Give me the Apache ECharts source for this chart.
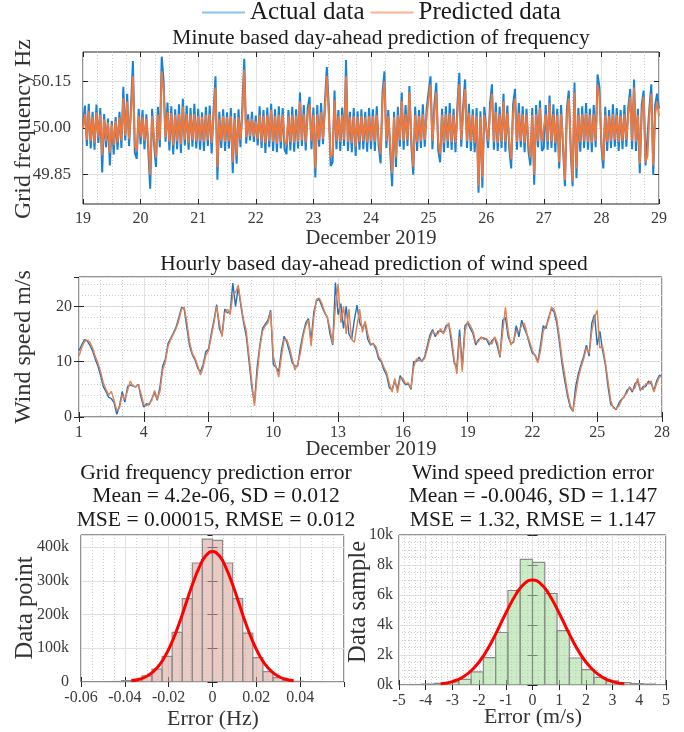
<!DOCTYPE html>
<html><head><meta charset="utf-8">
<script src="https://cdn.jsdelivr.net/npm/echarts@6.0.0/dist/echarts.min.js"></script>
<style>html,body{margin:0;padding:0;background:#fff}#c{width:684px;height:732px}</style>
</head><body><div id="c"></div>
<script>
const FONT = "'Liberation Serif','DejaVu Serif',serif";

// ---------- Top panel: grid frequency (deviation from 50 Hz in mHz), one value every 48 min from 19 Dec 00:00
const freqStartDay = 19;
const freqSamplesPerDay = 30;
const freqYTicks = [49.85, 50.00, 50.15];
const freqActual = [
 10,72,-58,78,-66,52,-70,75,-48,64, -143,45,-62,30,-120,22,-85,35,-70,52, -64,132,-40,110,-58,70,215,-80,-99,62,
 -52,58,-68,44,-72,-195,62,-50,-125,68, -62,229,150,-44,82,-72,70,-85,60,-68, 76,-80,94,-56,72,-70,64,-60,78,-66,
 62,-70,50,-74,68,-58,72,-82,54,166, -166,52,-64,60,-74,50,-66,64,-145,48, -115,60,-62,70,222,-50,44,-40,52,-45,
 40,-56,70,-64,58,-80,66,-62,78,-74, 60,-78,70,-66,64,-70,-84,58,-72,68, -76,60,-66,114,-58,74,-72,62,100,-68,
 66,-159,74,-60,80,-52,82,196,70,-122, -110,120,-68,58,-74,66,-58,218,-74,52, -78,64,-90,54,-70,60,-68,52,-76,64,
 -68,60,-74,70,-58,-114,114,182,-64,58, -76,-187,52,-125,68,-60,114,-70,74,-58, 135,-54,-150,68,-74,58,-64,76,-60,64,
 60,166,-68,74,145,-70,-110,62,-78,70, -64,80,-70,62,-78,74,177,-60,70,156, -64,78,-74,60,-78,64,-208,54,-192,68,
 74,-64,78,140,-70,82,-74,68,-64,110, -76,72,-64,-130,74,125,-70,80,-62,70, -78,62,-74,-120,64,-182,74,-62,88,-74,
 -64,74,-70,104,-64,76,-78,62,-130,74, -62,-187,60,120,-74,-187,146,-161,64,-76, 70,-64,80,-70,62,-78,74,-62,172,130,
 -60,-130,68,-74,58,-64,76,-60,64,-74, 58,-68,74,-60,66,125,-68,156,-74,62, -145,74,120,-120,-115,64,140,-150,74,110, 62
];
const freqPred = [
 0,45,-38,55,-42,35,-48,50,-30,42, -88,28,-42,18,-80,12,-55,22,-46,34, -40,95,-24,85,-36,46,166,-55,-75,40,
 -30,35,-42,30,-45,-150,38,-35,-95,42, -38,182,120,-30,50,-45,48,-55,42,-42, 45,-52,70,-38,45,-48,42,-38,45,-42,
 38,-42,35,-45,42,-38,45,-48,35,130, -125,30,-42,38,-45,35,-42,38,-110,30, -88,35,-38,42,187,-30,28,-25,30,-28,
 22,-35,42,-45,38,-48,42,-42,58,-45, 38,-50,42,-45,44,-42,-55,38,-45,42, -48,40,-44,85,-38,45,-46,42,75,-42,
 42,-130,45,-38,50,-35,55,167,45,-95, -85,90,-42,38,-45,42,-38,166,-45,35, -48,38,-60,35,-45,38,-42,35,-46,38,
 -42,38,-45,42,-38,-85,85,150,-42,38, -45,-145,35,-95,42,-38,88,-42,45,-38, 115,-35,-125,42,-45,38,-42,45,-38,42,
 38,140,-42,45,115,-45,-85,42,-48,45, -42,48,-45,42,-48,45,140,-38,45,125, -42,48,-45,42,-48,38,-187,35,-160,42,
 45,-42,48,110,-45,52,-48,45,-42,85, -45,48,-42,-100,45,95,-45,48,-42,45, -48,42,-45,-95,42,-150,45,-42,65,-45,
 -42,45,-45,80,-42,45,-48,42,-110,45, -42,-167,38,95,-45,-172,115,-130,42,-45, 45,-42,48,-45,42,-48,45,-42,140,100,
 -38,-105,42,-45,38,-42,45,-38,42,-45, 38,-42,45,-38,42,100,-42,130,-45,42, -115,45,100,-110,-90,42,110,-120,45,85, 38
];

// ---------- Middle panel: wind speed (m/s), one value every 3 h from 1 Dec 00:00
const windSamplesPerDay = 8;
const windActual = [
 12.0,13.0,14.0,13.8,13.0,12.0,10.5,9.2,
 7.5,5.5,4.6,3.6,3.3,2.6,0.5,2.0,
 4.6,2.7,5.5,5.8,5.6,5.4,5.9,3.5,
 1.8,2.4,2.2,3.3,4.5,3.0,5.5,9.2,
 10.5,13.3,14.2,15.2,16.3,18.0,19.8,19.5,
 16.0,12.8,11.2,10.3,8.8,8.2,9.5,11.8,
 12.3,15.0,17.5,20.3,16.0,14.8,19.5,18.8,
 19.0,24.2,20.0,23.5,20.0,17.0,14.5,10.0,
 5.5,2.5,9.0,13.0,16.0,16.8,17.5,19.3,
 9.5,9.0,8.2,12.0,14.6,13.5,11.8,9.8,
 9.2,9.2,12.5,15.0,17.0,17.8,13.8,19.0,
 21.0,21.3,20.0,18.8,18.0,15.0,13.0,24.3,
 18.5,20.5,16.0,20.0,15.0,14.0,17.5,20.2,
 17.0,16.0,17.0,14.0,13.0,13.3,12.3,10.5,
 10.0,8.5,7.5,5.2,5.0,6.5,5.0,7.5,
 6.5,5.8,6.0,5.0,10.0,10.0,10.8,10.0,
 10.8,12.8,14.8,15.8,14.5,15.5,15.5,15.2,
 16.5,16.8,13.5,9.8,9.0,15.8,9.0,16.5,
 17.0,16.0,15.0,13.0,14.0,14.3,14.3,14.0,
 13.0,13.8,14.3,12.8,10.8,17.5,18.0,14.5,
 13.3,13.5,16.5,14.5,17.5,16.0,14.8,13.0,
 11.5,11.2,10.0,13.0,16.5,16.0,18.0,19.5,
 19.0,17.0,13.5,9.5,6.5,3.8,1.8,1.0,
 5.5,7.8,9.5,11.0,13.0,11.0,17.0,18.5,
 13.0,15.5,12.0,9.5,5.5,2.3,1.8,1.3,
 2.5,3.2,3.6,4.8,5.3,4.5,6.0,6.5,
 4.8,5.5,5.5,6.5,6.0,4.8,6.5,7.5,
 7.5
];
const windPred = [
 11.0,12.5,13.6,13.9,13.6,12.5,11.0,9.8,
 8.2,6.2,5.0,4.0,4.6,3.0,1.2,1.6,
 4.0,3.2,4.8,6.5,5.6,5.5,5.8,4.2,
 2.2,2.0,2.5,3.0,4.8,3.2,4.6,8.5,
 10.0,12.8,14.0,15.0,16.0,17.5,19.5,19.8,
 17.0,13.5,11.5,10.6,9.2,7.6,9.0,11.2,
 12.0,14.5,17.0,20.0,17.0,14.5,18.8,19.5,
 18.5,22.0,22.5,23.8,20.5,17.5,15.5,11.0,
 6.5,2.0,7.5,12.5,15.5,16.5,17.0,19.0,
 11.0,9.0,7.2,11.0,14.0,14.0,12.5,10.5,
 8.5,9.5,11.5,14.5,16.5,17.5,12.8,18.0,
 21.3,21.5,20.5,19.0,18.0,16.0,13.2,20.0,
 24.0,17.0,20.0,15.0,19.5,14.0,13.5,16.5,
 19.5,15.3,17.3,15.0,13.2,13.2,12.8,11.0,
 10.2,9.0,8.0,6.0,4.5,7.0,4.4,7.0,
 7.0,6.0,6.2,5.2,9.0,10.5,10.2,10.2,
 10.5,12.2,14.2,15.5,15.0,15.0,16.0,15.0,
 16.0,17.0,14.5,10.5,7.8,14.5,8.2,15.5,
 17.3,16.5,15.5,13.5,13.6,14.5,14.0,14.2,
 13.5,13.2,14.5,13.5,11.0,15.5,19.8,15.5,
 13.0,13.8,15.5,15.5,16.5,17.0,15.0,13.5,
 12.0,11.0,9.8,12.0,15.5,16.5,17.5,19.8,
 19.5,17.8,14.5,10.5,7.5,4.5,2.2,1.0,
 4.0,7.0,9.0,10.5,12.5,11.5,15.5,18.0,
 19.3,12.5,12.8,10.0,6.5,3.0,1.6,1.5,
 2.0,3.0,3.8,4.3,5.5,4.8,5.3,7.0,
 5.0,5.0,6.0,6.0,6.5,4.5,6.0,7.2,
 7.5
];

// ---------- Bottom left: frequency error histogram (Hz)
const freqErrEdges = [-0.0598,-0.0552,-0.0506,-0.046,-0.0414,-0.0368,-0.0322,-0.0276,-0.023,-0.0184,-0.0138,-0.0092,-0.0046,0,
 0.0046,0.0092,0.0138,0.0184,0.023,0.0276,0.0322,0.0368,0.0414,0.046,0.0506];
const freqErrCounts = [300,500,800,1500,4000,8000,18000,38000,76000,147000,247000,353000,424000,
 420000,353000,247000,145000,72000,31000,13000,5000,2000,1000,500];
const freqFitX = [-0.037,-0.033,-0.03,-0.027,-0.024,-0.021,-0.018,-0.015,-0.012,-0.009,-0.006,-0.003,0,
 0.003,0.006,0.009,0.012,0.015,0.018,0.021,0.024,0.027,0.03,0.033,0.037];
const freqFitY = [3400,8900,17000,31000,52000,84000,126000,177000,235000,292000,341000,375000,387000,
 375000,341000,292000,235000,177000,126000,84000,52000,31000,17000,8900,3400];

// ---------- Bottom right: wind speed error histogram (m/s)
const windErrEdges = [-4.6,-4.14,-3.68,-3.22,-2.76,-2.3,-1.84,-1.38,-0.92,-0.46,0,0.46,0.92,1.38,1.84,2.3,2.76,3.22,3.68,4.14,4.6];
const windErrCounts = [30,60,110,200,380,870,1830,3500,6300,8370,8170,6100,3630,1800,1020,510,270,160,90,60];
const windFitX = [-3.44,-3.0,-2.6,-2.2,-1.8,-1.4,-1.0,-0.6,-0.3,0,0.3,0.6,1.0,1.4,1.8,2.2,2.6,3.0,3.44];
const windFitY = [78,229,536,1113,2044,3324,4787,6105,6765,7000,6765,6105,4787,3324,2044,1113,536,229,78];

// ---------- build series data
const freqA = freqActual.map((v, i) => [freqStartDay + i / freqSamplesPerDay, 50 + v / 1000]);
const freqP = freqPred.map((v, i) => [freqStartDay + i / freqSamplesPerDay, 50 + v / 1000]);
const windA = windActual.map((v, i) => [i / windSamplesPerDay, v]);
const windP = windPred.map((v, i) => [i / windSamplesPerDay, v]);
const histF = freqErrCounts.map((c, i) => [freqErrEdges[i], freqErrEdges[i + 1], c]);
const histW = windErrCounts.map((c, i) => [windErrEdges[i], windErrEdges[i + 1], c]);
const fitF = freqFitX.map((x, i) => [x, freqFitY[i]]);
const fitW = windFitX.map((x, i) => [x, windFitY[i]]);

const TICKC = '#262626';
const majorSplit = { show: true, lineStyle: { color: '#e2e2e2', width: 1 } };
const minorSplit = { show: true, lineStyle: { color: '#cfcfcf', width: 1, type: [1, 2] } };
const lbl = (extra) => Object.assign({ fontFamily: FONT, fontSize: 16, color: '#3a3a3a' }, extra);
const tick = { show: true, inside: true, length: 5, lineStyle: { color: TICKC, width: 1 } };

function xMain(grid, min, max, interval, labelExtra, minorN) {
  return {
    type: 'value', gridIndex: grid, min, max, interval, position: 'bottom',
    axisLine: { show: false }, axisTick: tick, axisLabel: lbl(labelExtra),
    splitLine: majorSplit,
    minorTick: { show: false, splitNumber: minorN || 5 },
    minorSplitLine: minorN ? minorSplit : { show: false }
  };
}
function xTop(grid, min, max, interval) {
  return { type: 'value', gridIndex: grid, min, max, interval, position: 'top',
    axisLine: { show: false }, axisTick: tick, axisLabel: { show: false }, splitLine: { show: false } };
}
function yRight(grid, min, max, interval, extra) {
  return Object.assign({ type: 'value', gridIndex: grid, min, max, interval, position: 'right',
    axisLine: { show: false }, axisTick: tick, axisLabel: { show: false }, splitLine: { show: false } }, extra || {});
}

const gridStyle = { show: true, borderColor: '#262626', borderWidth: 1, backgroundColor: '#fff', containLabel: false };

function txt(text, x, y, size, opts) {
  const o = opts || {};
  return {
    type: 'text', x, y, rotation: o.rot || 0, silent: true,
    style: { text, font: (size) + 'px ' + FONT, fill: o.color || '#1a1a1a',
      align: 'center', verticalAlign: 'middle', textAlign: 'center', textVerticalAlign: 'middle' }
  };
}

function histRender(fill) {
  return function (params, api) {
    const x0 = api.value(0), x1 = api.value(1), h = api.value(2);
    const p0 = api.coord([x0, h]);
    const p1 = api.coord([x1, 0]);
    return { type: 'rect', shape: { x: p0[0], y: p0[1], width: p1[0] - p0[0], height: p1[1] - p0[1] },
      style: { fill, stroke: '#8a8a8a', lineWidth: 1.2 } };
  };
}

const option = {
  animation: false,
  backgroundColor: '#fff',
  legend: {
    left: 202, top: 0, padding: 0, itemWidth: 43, itemHeight: 2, itemGap: 6, icon: 'rect',
    textStyle: { fontFamily: FONT, fontSize: 25, color: '#1a1a1a' },
    data: [
      { name: 'Actual data', itemStyle: { color: '#86c3ef' }, lineStyle: { color: '#86c3ef' } },
      { name: 'Predicted data', itemStyle: { color: '#f7b494' }, lineStyle: { color: '#f7b494' } }
    ]
  },
  grid: [
    Object.assign({ left: 83, top: 52, width: 576, height: 152 }, gridStyle),
    Object.assign({ left: 79, top: 277, width: 583, height: 140 }, gridStyle),
    Object.assign({ left: 81, top: 535, width: 263, height: 147 }, gridStyle),
    Object.assign({ left: 399, top: 535, width: 267, height: 150 }, gridStyle)
  ],
  xAxis: [
    xMain(0, 19, 29, 1, { margin: 7 }, 4),
    xTop(0, 19, 29, 1),
    xMain(1, 0, 27, 3, { margin: 8, formatter: v => String(Math.round(v) + 1) }, 3),
    xTop(1, 0, 27, 3),
    xMain(2, -0.06, 0.06, 0.02, { margin: 8, showMaxLabel: false,
      formatter: v => Math.abs(v) < 1e-9 ? '0' : v.toFixed(2) }, 4),
    xTop(2, -0.06, 0.06, 0.02),
    xMain(3, -5, 5, 1, { margin: 8, formatter: v => String(Math.round(v)) }, 5),
    xTop(3, -5, 5, 1)
  ],
  yAxis: [
    { type: 'value', gridIndex: 0, min: 49.756, max: 50.244,
      axisLine: { show: false },
      axisTick: Object.assign({ customValues: freqYTicks }, tick),
      axisLabel: lbl({ margin: 12, fontSize: 17, customValues: freqYTicks, formatter: v => v.toFixed(2) }),
      splitLine: majorSplit },
    yRight(0, 49.756, 50.244, undefined, { axisTick: Object.assign({ customValues: freqYTicks }, tick) }),
    { type: 'value', gridIndex: 1, min: 0, max: 25.3, interval: 10,
      axisLine: { show: false }, axisTick: tick,
      axisLabel: lbl({ margin: 7, showMaxLabel: false, formatter: v => (Math.abs(v % 10) < 1e-9 ? String(v) : '') }),
      splitLine: majorSplit },
    yRight(1, 0, 25.3, 10),
    { type: 'value', gridIndex: 1, min: 0, max: 25.3, interval: 2, position: 'left',
      axisLine: { show: false }, axisTick: { show: false }, axisLabel: { show: false },
      splitLine: minorSplit },
    { type: 'value', gridIndex: 2, min: 0, max: 436000, interval: 100000,
      axisLine: { show: false }, axisTick: tick,
      axisLabel: lbl({ margin: 12, showMaxLabel: false,
        formatter: v => v === 0 ? '0' : (v % 100000 === 0 ? (v / 1000) + 'k' : '') }),
      splitLine: majorSplit },
    yRight(2, 0, 436000, 100000),
    { type: 'value', gridIndex: 3, min: 0, max: 10000, interval: 2000,
      axisLine: { show: false }, axisTick: tick,
      axisLabel: lbl({ margin: 6, formatter: v => (v / 1000) + 'k' }),
      splitLine: majorSplit,
      minorTick: { show: false, splitNumber: 4 }, minorSplitLine: minorSplit },
    yRight(3, 0, 10000, 2000)
  ],
  series: [
    { name: 'Actual data', type: 'line', xAxisIndex: 0, yAxisIndex: 0, data: freqA, showSymbol: false,
      color: '#1683d6', lineStyle: { width: 2, color: '#1683d6' }, z: 3 },
    { name: 'Predicted data', type: 'line', xAxisIndex: 0, yAxisIndex: 0, data: freqP, showSymbol: false,
      color: '#f2773a', lineStyle: { width: 1.9, color: '#f2773a' }, z: 4 },
    { name: 'Actual data', type: 'line', xAxisIndex: 2, yAxisIndex: 2, data: windA, showSymbol: false,
      color: '#1f72bd', lineStyle: { width: 1.4, color: '#1f72bd' }, z: 3 },
    { name: 'Predicted data', type: 'line', xAxisIndex: 2, yAxisIndex: 2, data: windP, showSymbol: false,
      color: '#e3804f', lineStyle: { width: 1.4, color: '#e3804f' }, z: 4 },
    { name: 'Frequency error', type: 'custom', xAxisIndex: 4, yAxisIndex: 5, data: histF, clip: true,
      renderItem: histRender('rgba(214,160,148,0.55)'), z: 2 },
    { name: 'Frequency fit', type: 'line', xAxisIndex: 4, yAxisIndex: 5, data: fitF, smooth: true, showSymbol: false,
      lineStyle: { color: '#ff0000', width: 3 }, color: '#ff0000', z: 5 },
    { name: 'Wind error', type: 'custom', xAxisIndex: 6, yAxisIndex: 7, data: histW, clip: true,
      renderItem: histRender('rgba(160,220,152,0.55)'), z: 2 },
    { name: 'Wind fit', type: 'line', xAxisIndex: 6, yAxisIndex: 7, data: fitW, smooth: true, showSymbol: false,
      lineStyle: { color: '#ff0000', width: 3 }, color: '#ff0000', z: 5 }
  ],
  graphic: [
    txt('Minute based day-ahead prediction of frequency', 381, 38, 21.5),
    txt('December 2019', 371, 239, 20.6, { color: '#333' }),
    txt('Grid frequency Hz', 24, 129, 24, { rot: Math.PI / 2, color: '#333' }),
    txt('Hourly based day-ahead prediction of wind speed', 374, 264, 21.5),
    txt('December 2019', 371, 450, 20.6, { color: '#333' }),
    txt('Wind speed m/s', 24, 347, 24, { rot: Math.PI / 2, color: '#333' }),
    txt('Grid frequency prediction error', 216, 473, 21.6),
    txt('Mean = 4.2e-06, SD = 0.012', 216, 496.5, 21.6),
    txt('MSE = 0.00015, RMSE = 0.012', 216, 520, 21.6),
    txt('Wind speed prediction error', 533, 473, 21.6),
    txt('Mean = -0.0046, SD = 1.147', 533, 496.5, 21.6),
    txt('MSE = 1.32, RMSE = 1.147', 533, 520, 21.6),
    txt('Error (Hz)', 213, 719, 21.9, { color: '#333' }),
    txt('Error (m/s)', 533, 717, 21.9, { color: '#333' }),
    txt('Data point', 26, 608, 24.6, { rot: Math.PI / 2, color: '#333' }),
    txt('Data sample', 359, 602, 24.6, { rot: Math.PI / 2, color: '#333' })
  ]
};

const chart = echarts.init(document.getElementById('c'), null, { renderer: 'canvas' });
chart.setOption(option);
</script></body></html>
